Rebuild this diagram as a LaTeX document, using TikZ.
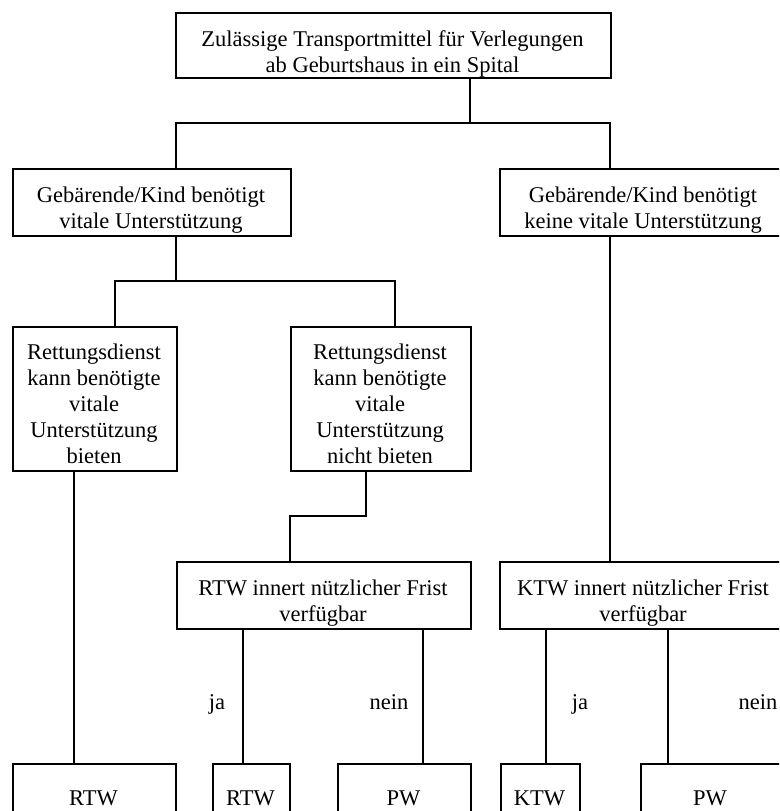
\documentclass[tikz,border=0pt]{standalone}
\usepackage{fontspec}
\setmainfont{Liberation Serif}
\begin{document}
\begin{tikzpicture}[x=1pt,y=-1pt,
  box/.style={draw,line width=1.5pt,inner sep=0pt,anchor=north west,rectangle},
  txt/.style={inner sep=0pt,anchor=base,font=\fontsize{22.5}{26}\selectfont},
  conn/.style={line width=1.5pt}]
\useasboundingbox (0,0) rectangle (779,811);
\clip (0,0) rectangle (779,811);
% boxes
\node[box,minimum width=435pt,minimum height=65pt] (top) at (175,12) {};
\node[box,minimum width=278pt,minimum height=67pt] (gl) at (12,168) {};
\node[box,minimum width=288pt,minimum height=67pt] (gr) at (499,168) {};
\node[box,minimum width=164pt,minimum height=144pt] (rl) at (12,326) {};
\node[box,minimum width=180pt,minimum height=144pt] (rr) at (290,326) {};
\node[box,minimum width=294pt,minimum height=67pt] (ri) at (176,561) {};
\node[box,minimum width=288pt,minimum height=67pt] (ki) at (499,561) {};
\node[box,minimum width=163pt,minimum height=77pt] (b1) at (12,763) {};
\node[box,minimum width=77pt,minimum height=77pt] (b2) at (212,763) {};
\node[box,minimum width=133pt,minimum height=77pt] (b3) at (337,763) {};
\node[box,minimum width=79pt,minimum height=77pt] (b4) at (500,763) {};
\node[box,minimum width=140pt,minimum height=77pt] (b5) at (640,763) {};
% texts
\node[txt] (t1a) at (392.5,46) {Zulässige Transportmittel für Verlegungen};
\node[txt] (t1b) at (392.5,72) {ab Geburtshaus in ein Spital};
\node[txt] (tgla) at (151,202) {Gebärende/Kind benötigt};
\node[txt] (tglb) at (151,228) {vitale Unterstützung};
\node[txt] (tgra) at (643,202) {Gebärende/Kind benötigt};
\node[txt] (tgrb) at (643,228) {keine vitale Unterstützung};
\node[txt] (trla) at (94,359) {Rettungsdienst};
\node[txt] (trlb) at (94,385) {kann benötigte};
\node[txt] (trlc) at (94,411) {vitale};
\node[txt] (trld) at (94,437) {Unterstützung};
\node[txt] (trle) at (94,463) {bieten};
\node[txt] (trra) at (380,359) {Rettungsdienst};
\node[txt] (trrb) at (380,385) {kann benötigte};
\node[txt] (trrc) at (380,411) {vitale};
\node[txt] (trrd) at (380,437) {Unterstützung};
\node[txt] (trre) at (380,463) {nicht bieten};
\node[txt] (tria) at (323,595) {RTW innert nützlicher Frist};
\node[txt] (trib) at (323,621) {verfügbar};
\node[txt] (tkia) at (643,595) {KTW innert nützlicher Frist};
\node[txt] (tkib) at (643,621) {verfügbar};
\node[txt] (tb1) at (93.5,805) {RTW};
\node[txt] (tb2) at (250.5,805) {RTW};
\node[txt] (tb3) at (403.5,805) {PW};
\node[txt] (tb4) at (539.5,805) {KTW};
\node[txt] (tb5) at (710,805) {PW};
\node[txt] (ja1) at (217,709) {ja};
\node[txt] (nein1) at (389,709) {nein};
\node[txt] (ja2) at (580,709) {ja};
\node[txt] (nein2) at (758,709) {nein};
% junction coordinates
\coordinate (j0) at (470,123);
\coordinate (j1) at (176,123);
\coordinate (j2) at (610,123);
\coordinate (k0) at (176,281);
\coordinate (k1) at (115,281);
\coordinate (k2) at (395,281);
\coordinate (m0) at (366,516);
\coordinate (m1) at (290,516);
% connectors
\draw[conn] (top.south -| j0) -- (j0);
\draw[conn] (gl.north -| j1) -- (j1) -- (j2) -- (gr.north -| j2);
\draw[conn] (gl.south -| k0) -- (k0);
\draw[conn] (rl.north -| k1) -- (k1) -- (k2) -- (rr.north -| k2);
\draw[conn] (rl.south -| 74,0) -- (b1.north -| 74,0);
\draw[conn] (rr.south -| m0) -- (m0) -- (m1) -- (ri.north -| m1);
\draw[conn] (gr.south -| j2) -- (ki.north -| j2);
\draw[conn] (ri.south -| 243,0) -- (b2.north -| 243,0);
\draw[conn] (ri.south -| 423,0) -- (b3.north -| 423,0);
\draw[conn] (ki.south -| 546,0) -- (b4.north -| 546,0);
\draw[conn] (ki.south -| 668,0) -- (b5.north -| 668,0);
\end{tikzpicture}
\end{document}
